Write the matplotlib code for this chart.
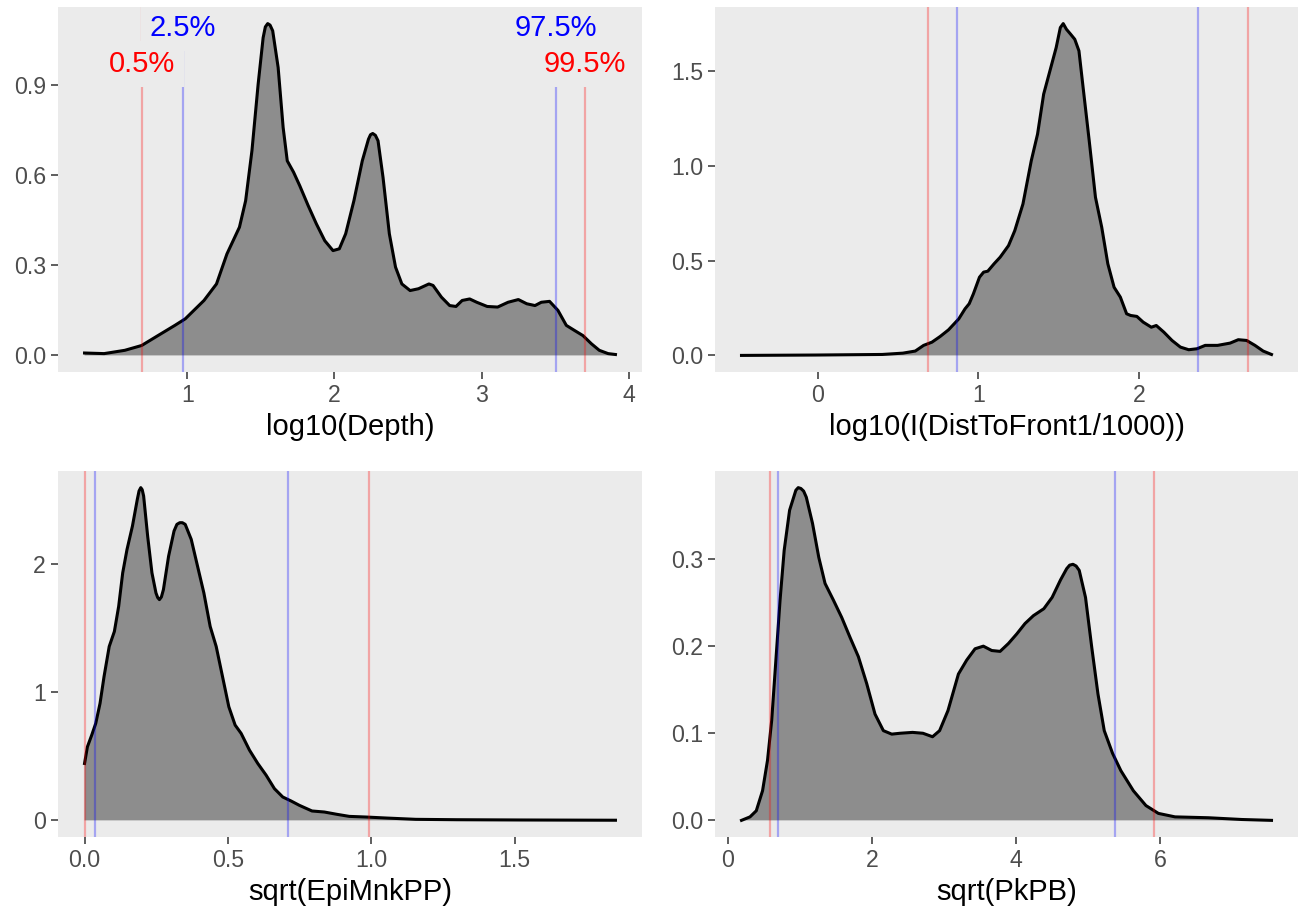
import matplotlib
matplotlib.use("Agg")
import matplotlib.pyplot as plt
import numpy as np

plt.rcParams['font.family'] = ['Liberation Sans', 'DejaVu Sans']

# ---------------- data ----------------
depth_x = [0.301, 0.434, 0.575, 0.689, 0.80, 0.915, 0.986, 1.113, 1.198, 1.269, 1.354, 1.396,
           1.439, 1.481, 1.515, 1.530, 1.546, 1.562, 1.580, 1.617, 1.651, 1.679, 1.722, 1.764,
           1.821, 1.877, 1.934, 1.99, 2.033, 2.076, 2.132, 2.189, 2.231, 2.245, 2.26, 2.278,
           2.296, 2.330, 2.373, 2.415, 2.458, 2.514, 2.571, 2.642, 2.67, 2.727, 2.783, 2.826,
           2.868, 2.919, 2.967, 3.038, 3.109, 3.18, 3.25, 3.307, 3.363, 3.406, 3.462, 3.519,
           3.576, 3.632, 3.689, 3.746, 3.80, 3.86, 3.91]
depth_y = [0.008, 0.006, 0.017, 0.033, 0.066, 0.10, 0.122, 0.183, 0.238, 0.338, 0.427, 0.515,
           0.682, 0.903, 1.058, 1.094, 1.105, 1.100, 1.081, 0.959, 0.759, 0.648, 0.610, 0.565,
           0.499, 0.438, 0.382, 0.349, 0.355, 0.405, 0.515, 0.648, 0.720, 0.735, 0.739, 0.733,
           0.715, 0.593, 0.405, 0.294, 0.238, 0.216, 0.222, 0.238, 0.233, 0.194, 0.166, 0.163,
           0.183, 0.188, 0.177, 0.163, 0.161, 0.177, 0.186, 0.172, 0.166, 0.177, 0.18, 0.150,
           0.10, 0.083, 0.066, 0.039, 0.017, 0.006, 0.003]

dist_x = [-0.477, -0.013, 0.4, 0.529, 0.606, 0.658, 0.71, 0.761, 0.813, 0.877, 0.916, 0.942,
          0.968, 1.006, 1.032, 1.058, 1.097, 1.135, 1.187, 1.226, 1.277, 1.329, 1.368, 1.406,
          1.445, 1.484, 1.51, 1.528, 1.548, 1.574, 1.60, 1.626, 1.652, 1.69, 1.729, 1.768,
          1.806, 1.845, 1.884, 1.923, 1.948, 1.987, 2.026, 2.077, 2.108, 2.155, 2.206, 2.258,
          2.31, 2.361, 2.413, 2.49, 2.568, 2.619, 2.671, 2.723, 2.774, 2.826]
dist_y = [0.0, 0.002, 0.005, 0.012, 0.023, 0.053, 0.07, 0.10, 0.135, 0.193, 0.246, 0.273,
          0.325, 0.413, 0.44, 0.445, 0.484, 0.519, 0.58, 0.659, 0.80, 1.029, 1.169, 1.38,
          1.503, 1.626, 1.732, 1.753, 1.723, 1.697, 1.67, 1.609, 1.415, 1.134, 0.835, 0.677,
          0.484, 0.36, 0.308, 0.22, 0.211, 0.206, 0.176, 0.149, 0.158, 0.123, 0.079, 0.044,
          0.03, 0.035, 0.053, 0.053, 0.065, 0.083, 0.079, 0.053, 0.023, 0.005]

epi_x = [0.0, 0.010, 0.025, 0.039, 0.054, 0.068, 0.086, 0.104, 0.119, 0.133, 0.148, 0.167,
         0.184, 0.190, 0.196, 0.201, 0.206, 0.220, 0.235, 0.249, 0.255, 0.261, 0.268, 0.275,
         0.293, 0.312, 0.322, 0.332, 0.341, 0.351, 0.372, 0.394, 0.416, 0.438, 0.459, 0.481,
         0.503, 0.525, 0.546, 0.575, 0.604, 0.633, 0.662, 0.691, 0.72, 0.749, 0.793, 0.836,
         0.88, 0.923, 0.981, 1.054, 1.155, 1.3, 1.517, 1.851]
epi_y = [0.443, 0.573, 0.664, 0.755, 0.911, 1.12, 1.354, 1.471, 1.667, 1.927, 2.109, 2.292,
         2.5, 2.565, 2.591, 2.575, 2.526, 2.214, 1.927, 1.771, 1.735, 1.719, 1.740, 1.797,
         2.057, 2.253, 2.305, 2.318, 2.318, 2.305, 2.188, 1.979, 1.771, 1.51, 1.354, 1.12,
         0.885, 0.742, 0.677, 0.547, 0.443, 0.352, 0.247, 0.182, 0.151, 0.117, 0.073, 0.065,
         0.047, 0.031, 0.026, 0.018, 0.008, 0.005, 0.003, 0.001]

pk_x = [0.188, 0.306, 0.393, 0.48, 0.549, 0.607, 0.665, 0.723, 0.78, 0.855, 0.942, 0.975,
        1.012, 1.05, 1.087, 1.173, 1.26, 1.347, 1.462, 1.578, 1.694, 1.809, 1.925, 2.04,
        2.156, 2.272, 2.387, 2.561, 2.705, 2.838, 2.936, 3.052, 3.197, 3.312, 3.428, 3.543,
        3.659, 3.775, 3.89, 4.006, 4.121, 4.237, 4.382, 4.497, 4.613, 4.699, 4.74, 4.786,
        4.83, 4.873, 4.96, 5.046, 5.133, 5.22, 5.335, 5.451, 5.624, 5.798, 5.971, 6.202,
        6.665, 7.127, 7.54]
pk_y = [0.0, 0.004, 0.011, 0.034, 0.069, 0.115, 0.184, 0.253, 0.31, 0.356, 0.379, 0.382,
        0.381, 0.378, 0.371, 0.341, 0.302, 0.272, 0.253, 0.233, 0.21, 0.188, 0.157, 0.122,
        0.103, 0.099, 0.10, 0.101, 0.10, 0.096, 0.103, 0.126, 0.168, 0.184, 0.197, 0.20,
        0.195, 0.194, 0.203, 0.214, 0.226, 0.235, 0.243, 0.256, 0.276, 0.289, 0.293, 0.294,
        0.292, 0.287, 0.256, 0.199, 0.145, 0.103, 0.077, 0.057, 0.034, 0.017, 0.008, 0.004,
        0.003, 0.001, 0.0]

# quantile lines: [0.5%, 2.5%, 97.5%, 99.5%]
depth_q = [0.691, 0.969, 3.503, 3.70]
dist_q = [0.683, 0.863, 2.365, 2.68]
epi_q = [0.0, 0.035, 0.708, 0.993]
pk_q = [0.58, 0.69, 5.37, 5.91]

q_labels = ["0.5%", "2.5%", "97.5%", "99.5%"]
q_label_y = [0.98, 1.1, 1.1, 0.98]
q_colors = ["red", "blue", "blue", "red"]

x_titles = ["log10(Depth)", "log10(I(DistToFront1/1000))", "sqrt(EpiMnkPP)", "sqrt(PkPB)"]
x_ticks = [[1, 2, 3, 4], [0, 1, 2], [0.0, 0.5, 1.0, 1.5], [0, 2, 4, 6]]
x_ticklabels = [["1", "2", "3", "4"], ["0", "1", "2"], ["0.0", "0.5", "1.0", "1.5"],
                ["0", "2", "4", "6"]]
y_ticks = [[0.0, 0.3, 0.6, 0.9], [0.0, 0.5, 1.0, 1.5], [0, 1, 2], [0.0, 0.1, 0.2, 0.3]]
y_ticklabels = [["0.0", "0.3", "0.6", "0.9"], ["0.0", "0.5", "1.0", "1.5"], ["0", "1", "2"],
                ["0.0", "0.1", "0.2", "0.3"]]

# ---------------- layout ----------------
W, H = 1299, 911
fig = plt.figure(figsize=(W / 100, H / 100), dpi=100)
fig.patch.set_facecolor("white")


def rect(x0, x1, y0, y1):
    return [x0 / W, 1 - y1 / H, (x1 - x0) / W, (y1 - y0) / H]


rects = [rect(58, 642, 7, 372), rect(715, 1298, 7, 372),
         rect(58, 642, 471, 837), rect(715, 1298, 471, 837)]

series = [(depth_x, depth_y, depth_q), (dist_x, dist_y, dist_q),
          (epi_x, epi_y, epi_q), (pk_x, pk_y, pk_q)]

PANEL = "#EBEBEB"

for i, ((xs, ys, qs), r) in enumerate(zip(series, rects)):
    ax = fig.add_axes(r)
    ax.set_facecolor(PANEL)
    for s in ax.spines.values():
        s.set_visible(False)
    xs = np.asarray(xs)
    ys = np.asarray(ys)
    ax.fill_between(xs, 0, ys, facecolor="#8D8D8D", edgecolor="none", zorder=2)
    ax.plot(xs, ys, color="black", lw=2.2, zorder=3, solid_joinstyle="round")
    for q, c in zip(qs, q_colors):
        ax.axvline(q, color=c, alpha=0.3, lw=1.6, zorder=4)
    ymax = ys.max()
    if i == 0:
        ymax = max(ymax, max(q_label_y))
        for q, lab, ly, c in zip(qs, q_labels, q_label_y, q_colors):
            t = ax.text(q, ly, lab, color=c, fontsize=21, ha="center",
                        va="center_baseline", zorder=6,
                        bbox=dict(boxstyle="square,pad=0.3", fc=PANEL, ec="none"))
            t.set_clip_on(True)
    xr = xs.max() - xs.min()
    ax.set_xlim(xs.min() - 0.05 * xr, xs.max() + 0.05 * xr)
    ax.set_ylim(-0.05 * ymax, 1.05 * ymax)
    ax.set_xticks(x_ticks[i])
    ax.set_xticklabels(x_ticklabels[i])
    ax.set_yticks(y_ticks[i])
    ax.set_yticklabels(y_ticklabels[i])
    ax.tick_params(direction="out", length=4.75, width=1.1, color="#333333",
                   labelcolor="#4D4D4D", labelsize=16.7, pad=3.8)
    ax.set_xlabel(x_titles[i], fontsize=21, color="black", labelpad=4.75)
    ax.grid(False)

fig.savefig("out.png", dpi=100, facecolor="white")
